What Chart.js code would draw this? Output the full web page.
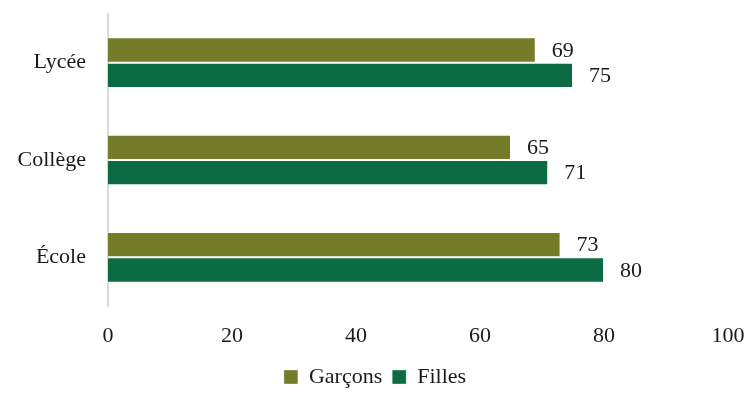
<!DOCTYPE html>
<html>
<head>
<meta charset="utf-8">
<script src="https://cdn.jsdelivr.net/npm/chart.js@4"></script>
<style>
  html, body { margin: 0; padding: 0; background: #fff; }
  #wrap { width: 750px; height: 398px; }
</style>
</head>
<body>
<div id="wrap"><canvas id="chart"></canvas></div>
<script>
const categories = ['Lycée', 'Collège', 'École'];
const garcons = [69, 65, 73];
const filles = [75, 71, 80];
const xTicks = [0, 20, 40, 60, 80, 100];

const fontFamily = '"Liberation Serif", "DejaVu Serif", serif';

// étiquettes de valeurs au bout des barres
const valueLabels = {
    id: 'valueLabels',
    afterDatasetsDraw(chart) {
        const ctx = chart.ctx;
        ctx.save();
        ctx.font = '22px ' + fontFamily;
        ctx.fillStyle = '#1a1a1a';
        ctx.textAlign = 'left';
        ctx.textBaseline = 'middle';
        chart.data.datasets.forEach((ds, i) => {
            chart.getDatasetMeta(i).data.forEach((bar, j) => {
                ctx.fillText(ds.data[j], bar.x + 16, bar.y + 1);
            });
        });
        ctx.restore();
    }
};

const ctx = document.getElementById('chart').getContext('2d');
new Chart(ctx, {
    type: 'bar',
    data: {
        labels: categories,
        datasets: [{
            label: 'Garçons',
            data: garcons,
            backgroundColor: '#747c29',
            borderColor: 'rgba(255,255,255,0.35)',
            borderWidth: 1
        }, {
            label: 'Filles',
            data: filles,
            backgroundColor: '#0b6b42',
            borderColor: 'rgba(255,255,255,0.35)',
            borderWidth: 1
        }]
    },
    options: {
        indexAxis: 'y',
        responsive: true,
        maintainAspectRatio: false,
        animation: false,
        barPercentage: 1,
        categoryPercentage: 0.52,
        layout: { padding: { top: 14, right: 0, bottom: 0, left: 0 } },
        plugins: {
            legend: {
                position: 'bottom',
                labels: {
                    font: { family: fontFamily, size: 22 },
                    color: '#1a1a1a',
                    boxWidth: 14,
                    boxHeight: 14,
                    padding: 10
                }
            },
            tooltip: { enabled: false }
        },
        scales: {
            x: {
                min: 0,
                max: 100,
                afterBuildTicks: s => { s.ticks = xTicks.map(v => ({ value: v })); },
                afterFit: s => { s.paddingLeft = 0; s.paddingRight = 22; s.height = 50; },
                grid: { display: false, drawTicks: false },
                border: { display: false },
                ticks: {
                    font: { family: fontFamily, size: 22 },
                    color: '#1a1a1a',
                    padding: 17
                }
            },
            y: {
                afterFit: s => { s.width = 108; s.paddingTop = 0; s.paddingBottom = 0; },
                grid: { display: false, drawTicks: false },
                border: { display: true, color: '#d9d9d9', width: 2 },
                ticks: {
                    font: { family: fontFamily, size: 22 },
                    color: '#1a1a1a',
                    padding: 22
                }
            }
        }
    },
    plugins: [valueLabels]
});
</script>
</body>
</html>
